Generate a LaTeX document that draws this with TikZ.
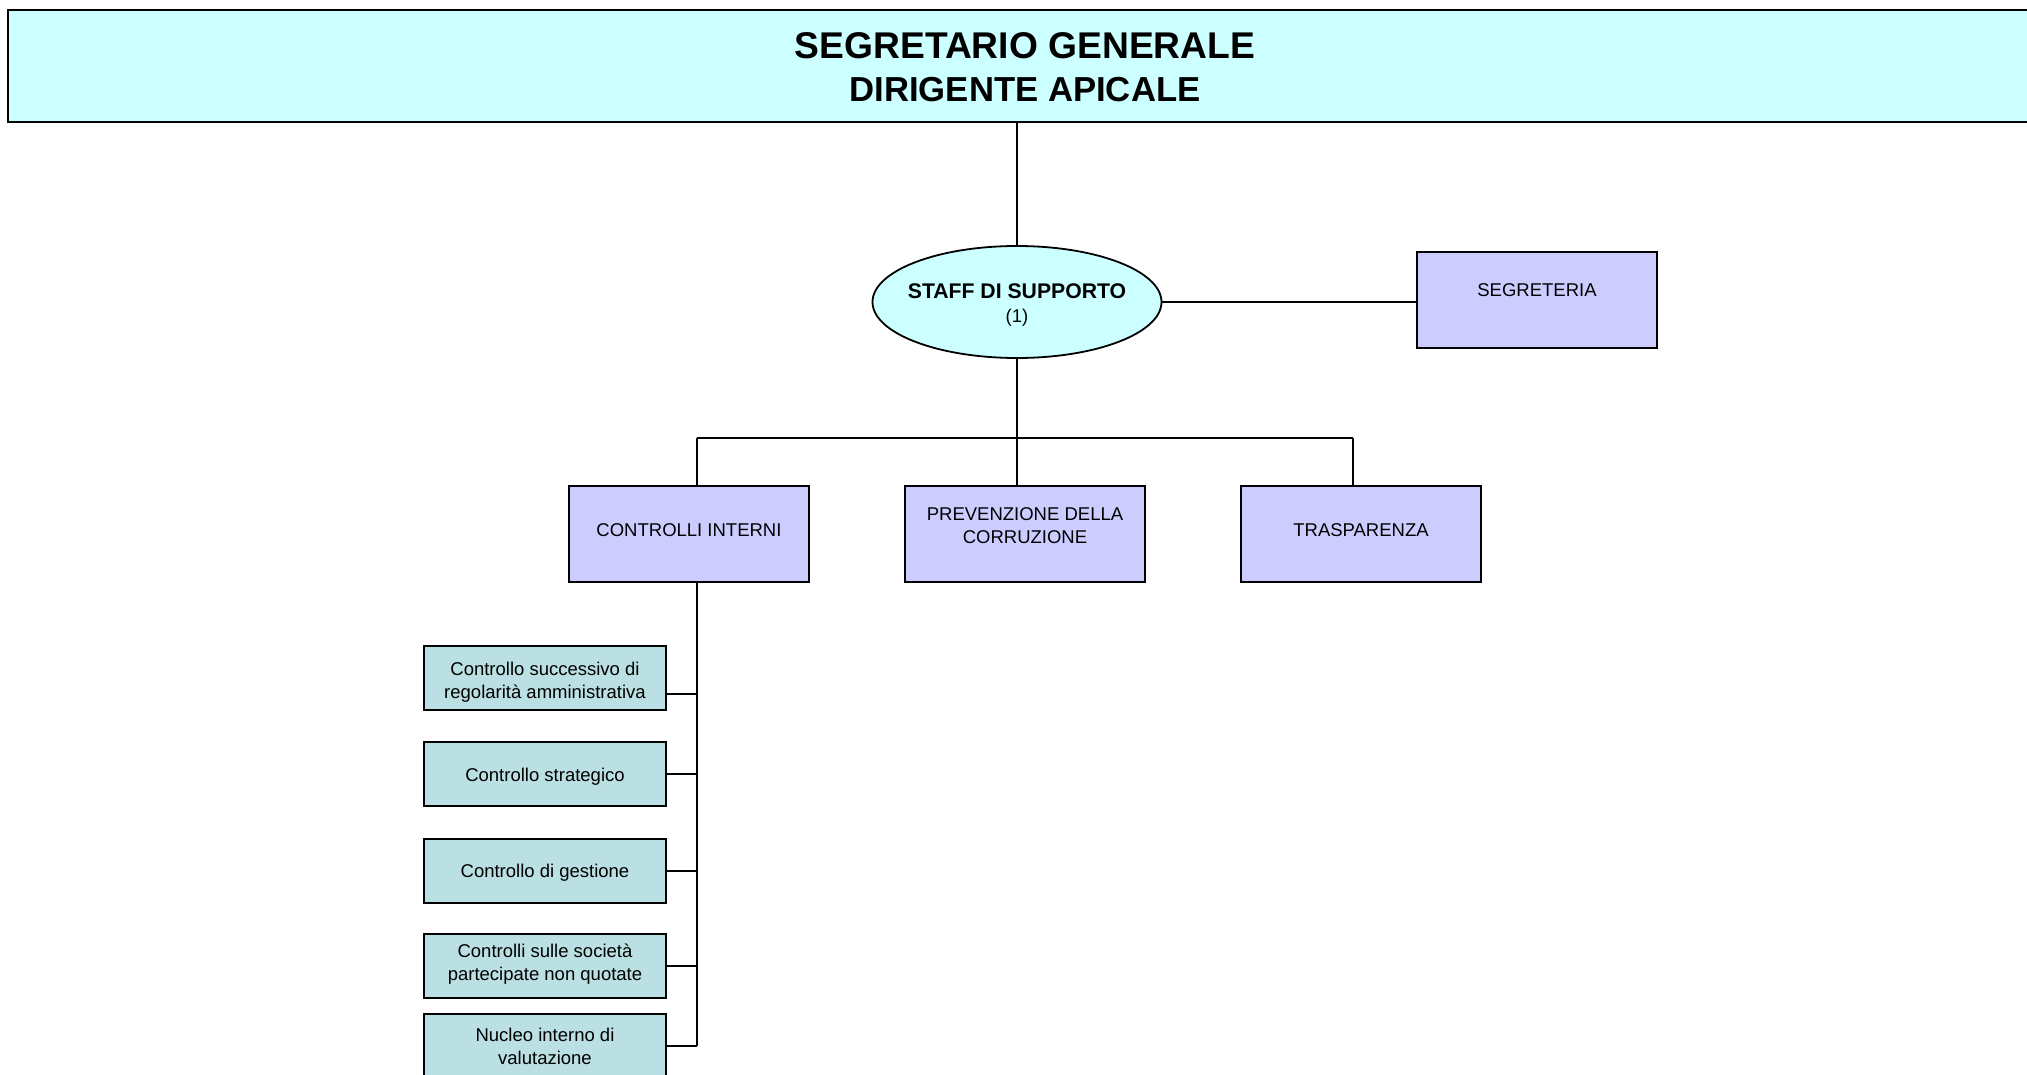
\documentclass[tikz,border=0pt]{standalone}
\usepackage{fontspec}
\setmainfont{Liberation Sans}
\usetikzlibrary{shapes.geometric}
\definecolor{cyanfill}{HTML}{CCFFFF}
\definecolor{lavfill}{HTML}{CCCCFF}
\definecolor{tealfill}{HTML}{BBE0E3}
\tikzset{
  conn/.style={draw=black, line width=2pt},
  bigbox/.style={draw=black, line width=1.8pt, fill=lavfill, rectangle, minimum width=240pt, minimum height=96pt, inner sep=0pt},
  smallbox/.style={draw=black, line width=1.8pt, fill=tealfill, rectangle, minimum width=242pt, minimum height=64pt, inner sep=0pt},
  txt/.style={inner sep=0pt, align=center, font=\fontsize{18.5}{23}\selectfont}
}
\begin{document}
\begin{tikzpicture}[x=1pt, y=-1pt]
\useasboundingbox (0,0) rectangle (2027,1075);
\clip (0,0) rectangle (2027,1075);
% top box
\node[draw=black, line width=2.2pt, fill=cyanfill, rectangle, minimum width=2030pt, minimum height=112pt, inner sep=0pt] (top) at (1023,66) {};
\node[txt, anchor=base, font=\fontsize{37.2}{40}\selectfont\bfseries] (t1) at (1025,59) {SEGRETARIO GENERALE};
\node[txt, anchor=base, font=\fontsize{34.7}{38}\selectfont\bfseries] (t2) at (1025,102) {DIRIGENTE APICALE};
% staff ellipse
\node[draw=black, line width=1.8pt, fill=cyanfill, ellipse, minimum width=289pt, minimum height=112pt, inner sep=0pt] (staff) at (1017,302) {};
\node[txt, anchor=base, font=\fontsize{21.2}{24}\selectfont\bfseries] (s1) at (1017,299) {STAFF DI SUPPORTO};
\node[txt, anchor=base] (s2) at (1017,323) {(1)};
% segreteria
\node[bigbox] (seg) at (1537,300) {};
\node[txt] (segt) at (1537,290) {SEGRETERIA};
% second row
\node[bigbox] (ci) at (689,534) {};
\node[txt] (cit) at (689,530) {CONTROLLI INTERNI};
\node[bigbox] (prev) at (1025,534) {};
\node[txt] (prevt) at (1025,526) {PREVENZIONE DELLA\\CORRUZIONE};
\node[bigbox] (tras) at (1361,534) {};
\node[txt] (trast) at (1361,530) {TRASPARENZA};
% small boxes
\node[smallbox] (a) at (545,678) {};
\node[txt] (at) at (545,682) {Controllo successivo di\\regolarità amministrativa};
\node[smallbox] (b) at (545,774) {};
\node[txt] (bt) at (545,777) {Controllo strategico};
\node[smallbox] (c) at (545,871) {};
\node[txt] (ct) at (545,873) {Controllo di gestione};
\node[smallbox] (d) at (545,966) {};
\node[txt] (dt) at (545,964) {Controlli sulle società\\partecipate non quotate};
\node[smallbox, minimum height=70pt] (e) at (545,1049) {};
\node[txt] (et) at (545,1046) {Nucleo interno di\\valutazione};
% connectors
\coordinate (busc) at (1017,438);
\coordinate (busl) at (697,438);
\coordinate (busr) at (1353,438);
\coordinate (cibot) at (697,1046);
\draw[conn] (staff.north) -- (staff.north |- top.south);
\draw[conn] (staff.east) -- (staff.east -| seg.west);
\draw[conn] (staff.south) -- (busc);
\draw[conn] (busl) -- (busr);
\draw[conn] (busl) -- (busl |- ci.north);
\draw[conn] (busc) -- (busc |- prev.north);
\draw[conn] (busr) -- (busr |- tras.north);
\draw[conn] (busl |- ci.south) -- (cibot);
\draw[conn] ([yshift=-16pt]a.east) -- ([yshift=-16pt]a.east -| cibot);
\draw[conn] (b.east) -- (b.east -| cibot);
\draw[conn] (c.east) -- (c.east -| cibot);
\draw[conn] (d.east) -- (d.east -| cibot);
\draw[conn] (e.east |- cibot) -- (cibot);
\end{tikzpicture}
\end{document}
